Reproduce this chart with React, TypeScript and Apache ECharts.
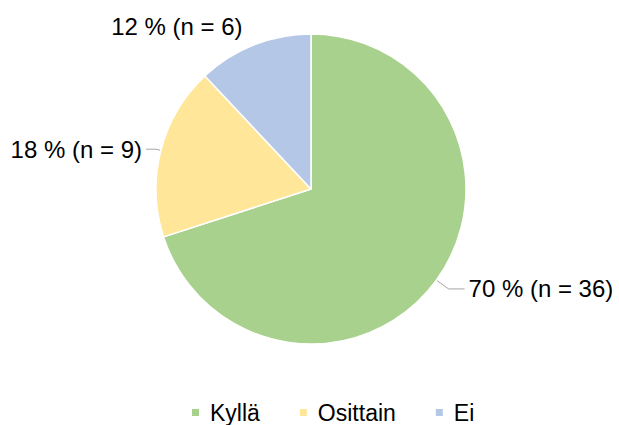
import React, { useEffect, useRef } from "react";
import * as echarts from "echarts";

const categories = ["Kyllä", "Osittain", "Ei"];
const percentages = [70, 18, 12];
const counts = [36, 9, 6];
const colors = ["#A9D18E", "#FFE699", "#B4C7E7"];

const FONT = "'Liberation Sans', Arial, sans-serif";

export default function App() {
  const ref = useRef<HTMLDivElement>(null);
  useEffect(() => {
    if (!ref.current) return;
    const chart = echarts.init(ref.current, undefined, { renderer: "svg" });
    const lineOverrides: any[] = [
      { show: true, length: 15, length2: 16 },
      { show: true, length: 5, length2: 10 },
      { show: false, length: 20, length2: 0 },
    ];
    const labelOverrides: any[] = [
      { padding: [0, 0, 14, 0] },
      {},
      { padding: [0, 0, 2, 0] },
    ];
    chart.setOption({
      animation: false,
      backgroundColor: "#ffffff",
      legend: {
        top: 401,
        left: 190,
        padding: 0,
        icon: "rect",
        itemWidth: 9,
        itemHeight: 9,
        itemGap: 38,
        textStyle: {
          fontFamily: FONT,
          fontSize: 23,
          lineHeight: 23,
          color: "#000",
          padding: [0, 0, 0, 5],
        },
        data: categories,
      },
      series: [
        {
          type: "pie",
          center: [311, 189],
          radius: 155,
          startAngle: 90,
          clockwise: true,
          avoidLabelOverlap: false,
          itemStyle: { borderColor: "#ffffff", borderWidth: 1.5 },
          label: {
            show: true,
            position: "outside",
            fontFamily: FONT,
            fontSize: 24,
            color: "#000",
            distanceToLabelLine: 4,
            formatter: (p: any) => `${percentages[p.dataIndex]} % (n = ${counts[p.dataIndex]})`,
          },
          labelLine: { lineStyle: { color: "#A6A6A6", width: 1 } },
          emphasis: { disabled: true },
          data: categories.map((name, i) => ({
            name,
            value: percentages[i],
            itemStyle: { color: colors[i] },
            labelLine: lineOverrides[i],
            label: labelOverrides[i],
          })),
        },
      ],
    });
    return () => chart.dispose();
  }, []);
  return (
    <div
      ref={ref}
      style={{ position: "fixed", left: 0, top: 0, width: 619, height: 425 }}
    />
  );
}
